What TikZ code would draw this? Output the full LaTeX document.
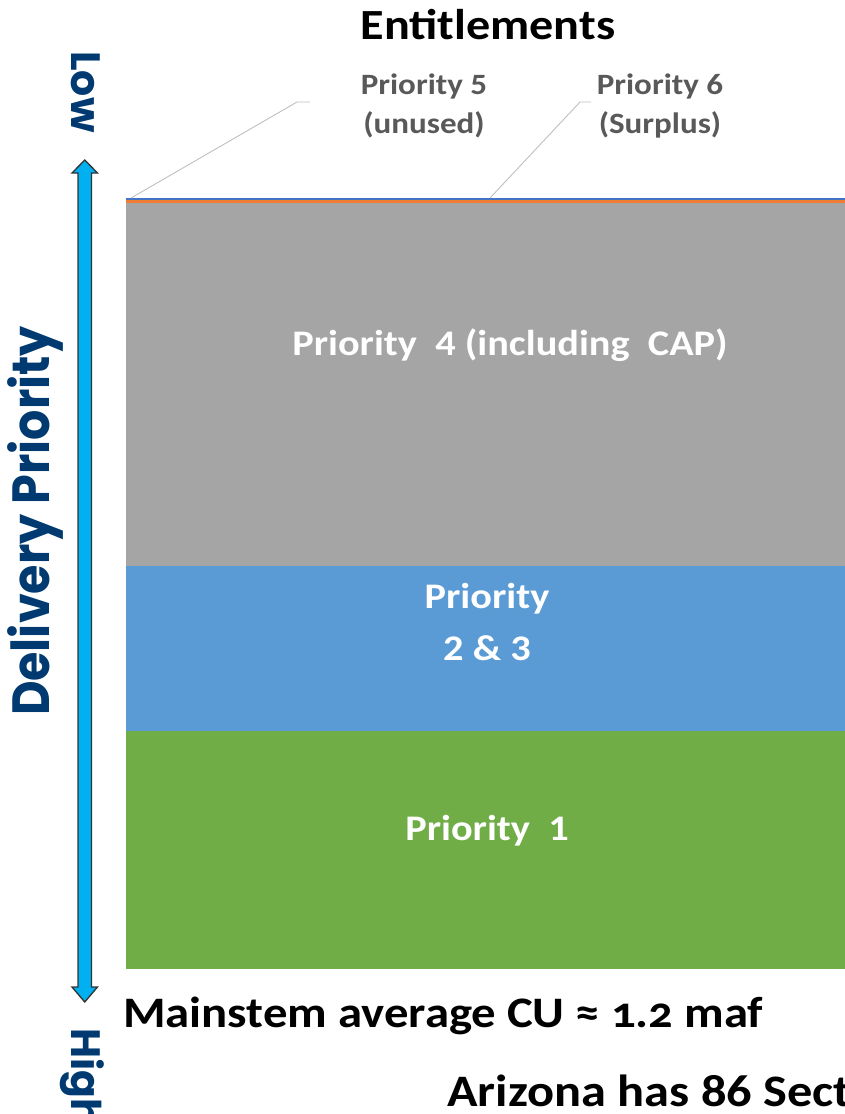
\documentclass[tikz,border=0pt]{standalone}
\usepackage{fontspec}
\setmainfont{Carlito}[FakeStretch=1.12]
\newfontfamily\geo{Poppins}
\usetikzlibrary{calc}
\definecolor{pgray}{HTML}{A5A5A5}
\definecolor{pblue}{HTML}{5B9BD5}
\definecolor{pgreen}{HTML}{70AD47}
\definecolor{porange}{HTML}{ED7D31}
\definecolor{pline}{HTML}{4472C4}
\definecolor{navy}{HTML}{003A70}
\definecolor{arrowfill}{HTML}{00B0F0}
\definecolor{labgray}{HTML}{595959}
\definecolor{leader}{HTML}{BFBFBF}
\tikzset{
  band/.style={inner sep=0pt, outer sep=0pt, anchor=north west},
  bandtext/.style={text=white, font=\bfseries\fontsize{36}{52}\selectfont, align=center, inner sep=0pt},
  toplabel/.style={text=labgray, font=\bfseries\fontsize{29.5}{39}\selectfont, align=center, inner sep=0pt},
  axislabel/.style={text=navy, font=\geo\bfseries\fontsize{41}{46}\selectfont, inner sep=0pt},
  bottomtext/.style={anchor=base west, font=\bfseries\fontsize{43.5}{48}\selectfont, inner sep=0pt},
  leaderline/.style={draw=leader, line width=0.9pt},
}
\begin{document}
\begin{tikzpicture}[x=1pt,y=-1pt]
\useasboundingbox (0,0) rectangle (845,1114);
\clip (0,0) rectangle (845,1114);
% bands
\node[band, fill=pgreen, minimum width=730pt, minimum height=238pt] (p1) at (126,731) {};
\node[band, fill=pblue, minimum width=730pt, minimum height=165pt] (p23) at (126,566) {};
\node[band, fill=pgray, minimum width=730pt, minimum height=363pt] (p4) at (126,203) {};
\node[band, fill=porange, minimum width=730pt, minimum height=3.8pt] (p6) at (126,199.6) {};
\node[band, fill=pline, minimum width=730pt, minimum height=1.8pt] (p5) at (126,197.8) {};
% band texts
\node[bandtext, anchor=base] (t4) at (510,355) {Priority\ \ 4 (including\ \ CAP)};
\node[bandtext] (t23) at (487,622) {Priority\\2 \& 3};
\node[bandtext, anchor=base] (t1) at (487,840) {Priority\ \ 1};
% titles
\node[font=\bfseries\fontsize{43}{48}\selectfont, anchor=base, inner sep=0pt] (ent) at (488,39) {Entitlements};
\node[toplabel] (l5) at (424,106) {Priority 5\\(unused)};
\node[toplabel] (l6) at (660,106) {Priority 6\\(Surplus)};
% leaders
\coordinate (c5a) at (310,102);
\coordinate (c5b) at (297,102);
\coordinate (c6a) at (591,102);
\coordinate (c6b) at (580,102);
\coordinate (e5) at (131,198);
\coordinate (e6) at (490,198);
\draw[leaderline] (c5a) -- (c5b) -- (e5);
\draw[leaderline] (c6a) -- (c6b) -- (e6);
% double arrow
\coordinate (atop) at (84.75,160);
\coordinate (abot) at (84.75,1002);
\filldraw[fill=arrowfill, draw=black!80, line width=1.3pt, line join=miter]
  (atop) -- (97.5,173) -- (91.5,173) -- (91.5,987) -- (97.5,987) -- (abot)
  -- (72,987) -- (78,987) -- (78,173) -- (72,173) -- cycle;
% axis labels
\node[axislabel, rotate=-90, anchor=base] (low) at (71,92) {Low};
\node[axislabel, rotate=-90, anchor=base west] (high) at (71,1028) {High};
\node[axislabel, rotate=90, anchor=base] (dp) at (49,521)
  {\fontsize{47.6}{50}\selectfont\scalebox{1}[1.1]{Delivery Priority}};
% bottom texts
\node[bottomtext] (cu) at (123,1027) {Mainstem average CU ≈ {\addfontfeatures{Numbers=OldStyle}1.2} maf};
\node[bottomtext, font=\bfseries\fontsize{45}{48}\selectfont] (az) at (447,1106) {Arizona has 86 Sect};
\end{tikzpicture}
\end{document}
